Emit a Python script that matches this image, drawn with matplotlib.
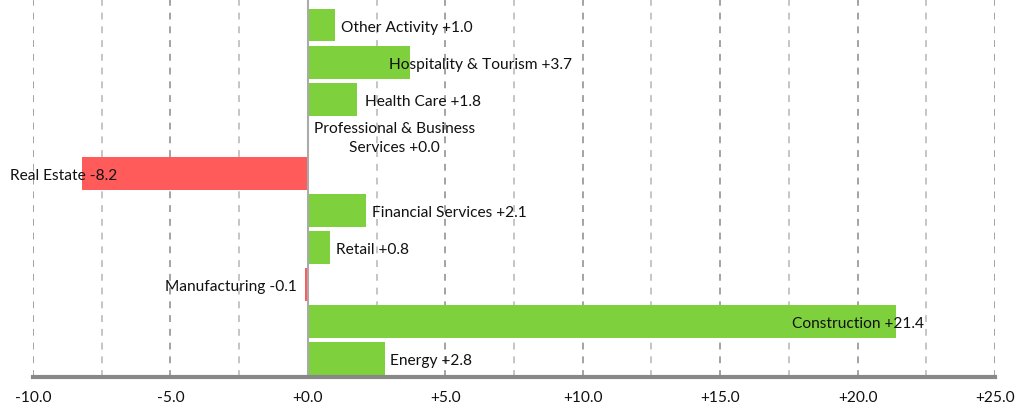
import matplotlib
matplotlib.use("Agg")
import matplotlib.pyplot as plt
import numpy as np

categories = ["Other Activity", "Hospitality & Tourism", "Health Care",
              "Professional & Business\nServices", "Real Estate", "Financial Services",
              "Retail", "Manufacturing", "Construction", "Energy"]
values = [1.0, 3.7, 1.8, 0.0, -8.2, 2.1, 0.8, -0.1, 21.4, 2.8]
tick_values = [-10, -5, 0, 5, 10, 15, 20, 25]
tick_labels = ["-10.0", "-5.0", "+0.0", "+5.0", "+10.0", "+15.0", "+20.0", "+25.0"]

# label placement (ha, x offset in pixels from bar end)
label_style = [("left", 6), ("left", -21), ("left", 8), ("center", 87),
               ("right", 35), ("left", 6), ("left", 6), ("right", -8),
               ("right", 28), ("left", 5)]

GREEN = "#7ED03C"
RED = "#FF5B5B"

plt.rcParams['font.family'] = ['Lato', 'DejaVu Sans']

fig = plt.figure(figsize=(10.19, 4.08), dpi=100)
ax = fig.add_axes([33/1019, 31/408, 962/1019, 377/408])

y = np.arange(len(categories))
colors = [GREEN if v >= 0 else RED for v in values]
ax.barh(y, values, height=0.89, color=colors, zorder=3)

ax.set_xlim(-10, 25)
ax.set_ylim(9.51, -0.676)

# gridlines
for xv in np.arange(-10, 25.01, 2.5):
    if abs(xv) < 1e-9:
        continue
    major = abs(xv % 5) < 1e-9
    ax.axvline(xv, color="#8a8a8a" if major else "#b5b5b5", lw=1.1,
               ls=(0, (4.5, 4.5)), zorder=1)
ax.axvline(0, color="#aaaaaa", lw=1.5, zorder=4)

for i, (cat, v) in enumerate(zip(categories, values)):
    ha, dx = label_style[i]
    ax.annotate(f"{cat} {v:+.1f}", xy=(v, i), xytext=(dx, -2.5),
                textcoords="offset pixels", ha=ha, va="center",
                fontsize=11.2, color="#111111", zorder=5,
                multialignment="center", linespacing=1.4)

for s in ["top", "left", "right"]:
    ax.spines[s].set_visible(False)
ax.spines["bottom"].set_color("#888888")
ax.spines["bottom"].set_linewidth(3)
ax.spines["bottom"].set_zorder(6)

ax.set_yticks([])
ax.set_xticks(tick_values)
ax.set_xticklabels(tick_labels, fontsize=11.2, color="#111111")
ax.tick_params(axis="x", length=0, pad=10)

fig.savefig("out.png", dpi=100)
